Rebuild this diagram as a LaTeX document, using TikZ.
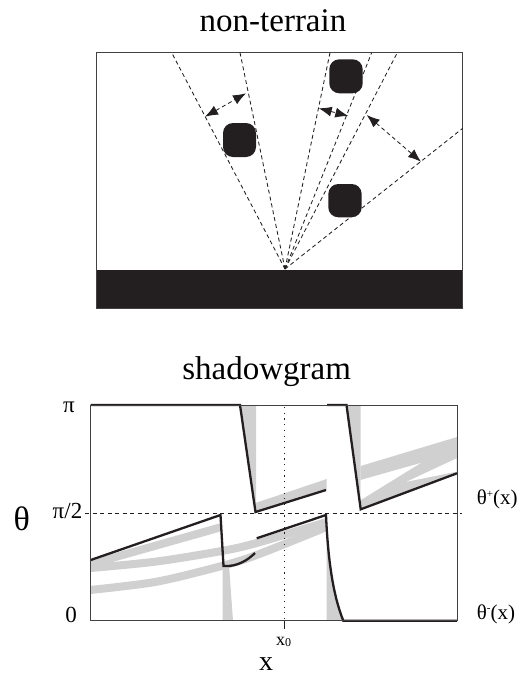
\documentclass[tikz,border=0pt]{standalone}
\usepackage{fontspec}
\setmainfont{Liberation Serif}
\usetikzlibrary{arrows.meta}
\definecolor{ink}{RGB}{35,31,32}
\definecolor{band}{RGB}{208,208,208}
\begin{document}
\begin{tikzpicture}[x=1pt,y=-1pt,
  ray/.style={ink, line width=0.85pt, dash pattern=on 4pt off 3pt},
  gapline/.style={ray, {Latex[length=13pt,width=10pt]}-{Latex[length=13pt,width=10pt]}},
  blob/.style={fill=ink, rounded corners=10pt},
  curve/.style={ink, line width=2.3pt, line join=miter},
  bandline/.style={band, line width=8pt},
  lab/.style={font=\fontsize{23}{26}\selectfont, inner sep=0pt},
  title/.style={font=\fontsize{33}{38}\selectfont, inner sep=0pt, anchor=base}]
\useasboundingbox (0,0) rectangle (526,675);
\fill[white] (0,0) rectangle (526,675);

% ---------------- top panel ----------------
\node[title] (t1) at (273,31.7) {non-terrain};
\coordinate (O) at (285,269);
\fill[ink] (96,270) rectangle (462.7,308);
\draw[ink!85, line width=1pt] (96,52.7) rectangle (462.7,308);
\coordinate (r1) at (171.7,52.7);
\coordinate (r2) at (240,52.7);
\coordinate (r3) at (330,52.7);
\coordinate (r4) at (371.7,52.7);
\coordinate (r5) at (397.3,52.7);
\coordinate (r6) at (462.7,128.3);
\foreach \r in {r1,r2,r3,r4,r5,r6} \draw[ray] (O) -- (\r);
\fill[blob] (223,123) rectangle (256,157);
\fill[blob] (329.3,59.3) rectangle (362.7,93.3);
\fill[blob] (328.3,184) rectangle (361.7,217.3);
\coordinate (a1) at (205,116.7);
\coordinate (a2) at (246,93.3);
\coordinate (b1) at (318.7,108.3);
\coordinate (b2) at (348.3,116);
\coordinate (c1) at (366.7,115);
\coordinate (c2) at (421,161.7);
\draw[gapline] (a1) -- (a2);
\draw[gapline] (b1) -- (b2);
\draw[gapline] (c1) -- (c2);

% ---------------- bottom panel ----------------
\node[title] (t2) at (266.7,379.5) {shadowgram};
\begin{scope}
\clip (90.7,405) rectangle (457,620.7);
% wedges
\fill[band] (240,405) -- (256,405) -- (256,512) -- cycle;
\fill[band] (346,405) -- (360.7,405) -- (360.7,509.3) -- cycle;
\fill[band] (255.5,512) -- (326.7,490) -- (326.7,479) -- (255.5,503) -- cycle;
% right bands
\fill[band] (360.7,466) -- (457,437) -- (457,473.3) -- (360.7,509.3) -- cycle;
\fill[white] (360.7,480) -- (360.7,500) -- (420.7,463) -- cycle;
\fill[white] (406.7,481.7) -- (456.7,458.3) -- (456.7,471.7) -- cycle;
% lower left bands
\begin{scope}
\clip (90,400) rectangle (221.7,625);
\draw[bandline] (90.7,564) -- (221.7,527);
\end{scope}
\begin{scope}
\clip (90,400) rectangle (326.7,625);
\draw[bandline] plot[smooth] coordinates {(85,568.5) (155,561.7) (221.7,551) (256.7,543) (326.7,522)};
\draw[bandline] plot[smooth] coordinates {(85,590.5) (155,582) (221.7,566) (256.7,555) (326.7,527)};
\end{scope}
\fill[band] (222.5,565) -- (229,565) -- (233,620.7) -- (222.5,620.7) -- cycle;
\fill[band] (326.7,515) -- (326.7,620.7) -- (343.3,620.7) .. controls (333,595) and (328,560) .. (326.7,515) -- cycle;
\end{scope}

% guide lines
\draw[ink, line width=0.8pt, dash pattern=on 4pt off 3.5pt] (85,513.3) -- (462,513.3);
\draw[ink, line width=1pt, dash pattern=on 1.2pt off 4.5pt] (284,407) -- (284,620.7);
\draw[ink, line width=0.8pt] (284,620.7) -- (284,629);

% black curves
\draw[curve] (90.7,405) -- (240,405) -- (255.5,512) -- (326,490);
\draw[curve] (327,405) -- (346.5,405) -- (360.7,509.3) -- (457,473.3);
\draw[curve] (90.7,560) -- (220.5,515) -- (223.5,566) .. controls (237,567) and (248,560) .. (255,553);
\draw[curve] (256.7,538.3) -- (326,515) .. controls (328,560) and (333,595) .. (343.3,620.7) -- (457,620.7);

\draw[ink!85, line width=1pt] (90.7,405) rectangle (457,620.7);

% labels
\node[lab] (lpi) at (69,407) {π};
\node[lab, anchor=base] (lpi2) at (67.5,518) {π/2};
\node[lab, anchor=base] (lzero) at (71,622) {0};
\node[font=\fontsize{34}{38}\selectfont, inner sep=0pt, anchor=base] (ltheta) at (21.7,530) {θ};
\node[font=\fontsize{21}{24}\selectfont, inner sep=0pt, anchor=base west] (lplus) at (476.7,504.5) {θ\raisebox{7pt}{\fontsize{11}{11}\selectfont +}(x)};
\node[font=\fontsize{21}{24}\selectfont, inner sep=0pt, anchor=base west] (lminus) at (476.7,619.5) {θ\raisebox{8pt}{\fontsize{11}{11}\selectfont -}(x)};
\node[inner sep=0pt, anchor=base] (lx0) at (283.5,645) {\fontsize{18}{20}\selectfont x\raisebox{-1pt}{\fontsize{12}{12}\selectfont 0}};
\node[font=\fontsize{28}{32}\selectfont, inner sep=0pt, anchor=base] (lx) at (266,670) {x};
\end{tikzpicture}
\end{document}
